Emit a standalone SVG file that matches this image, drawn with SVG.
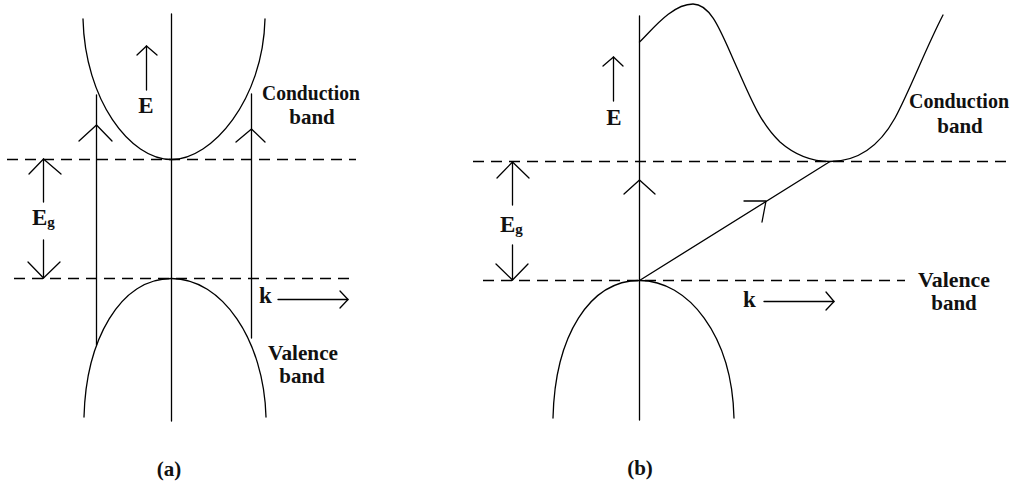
<svg xmlns="http://www.w3.org/2000/svg" width="1012" height="485" viewBox="0 0 1012 485">
<style>
.ln{stroke:#000;stroke-width:1.3;fill:none;stroke-linecap:round;stroke-linejoin:round}
.ds{stroke:#000;stroke-width:1.3;fill:none;stroke-dasharray:11 7}
.t{font-family:"Liberation Serif","Times New Roman",serif;font-weight:bold;fill:#111}
.lb{font-size:21px}
.sy{font-size:23px}
</style>
<rect width="1012" height="485" fill="#fff"/>
<g id="panel-a">
  <g id="a-guides">
    <line class="ds" x1="7" y1="159.5" x2="356" y2="159.5"/>
    <line class="ds" x1="14" y1="278.5" x2="356" y2="278.5"/>
  </g>
  <g id="a-axis"><line class="ln" x1="171.5" y1="14" x2="171.5" y2="421"/></g>
  <g id="a-conduction"><path class="ln" d="M83,19 C85,100 130,159.5 171.5,159.5 C212,159.5 263,100 265,19"/></g>
  <g id="a-valence"><path class="ln" d="M84,417 C86,340 120,278.5 171.5,278.5 C222,278.5 264,340 266,417"/></g>
  <g id="a-labels">
    <text class="t sy" x="146" y="113" text-anchor="middle">E</text>
    <text class="t sy" x="32" y="225">E<tspan font-size="15" dy="2">g</tspan></text>
    <text class="t lb" x="262" y="100" textLength="98" lengthAdjust="spacingAndGlyphs">Conduction</text>
    <text class="t lb" x="312" y="124" text-anchor="middle">band</text>
    <text class="t sy" x="259" y="303">k</text>
    <text class="t lb" x="268" y="360" textLength="70" lengthAdjust="spacingAndGlyphs">Valence</text>
    <text class="t lb" x="302" y="383" text-anchor="middle">band</text>
    <text class="t lb" x="169" y="476" text-anchor="middle">(a)</text>
  </g>
</g>
<g id="panel-b">
  <g id="b-guides">
    <line class="ds" x1="473" y1="161.5" x2="1012" y2="161.5"/>
    <line class="ds" x1="483" y1="280.5" x2="905" y2="280.5"/>
  </g>
  <g id="b-axis"><line class="ln" x1="639.5" y1="16" x2="639.5" y2="420"/></g>
  <g id="b-conduction"><path class="ln" d="M639.5,42 C652,30 672,4 693,4 C712,4 722,35 738,70 C752,102 762,125 780,142 C796,156 812,161.5 830,161.5 C858,161.5 880,145 895,118 C910,90 925,50 943,15"/></g>
  <g id="b-valence"><path class="ln" d="M553,418 C555,335 590,280.5 639.5,280.5 C688,280.5 732,335 734,418"/></g>
  <g id="b-labels">
    <text class="t sy" x="614" y="125" text-anchor="middle">E</text>
    <text class="t sy" x="500" y="232">E<tspan font-size="15" dy="2">g</tspan></text>
    <text class="t" font-size="20" x="909" y="108">Conduction</text>
    <text class="t lb" x="960" y="133" text-anchor="middle">band</text>
    <text class="t lb" x="918" y="287" textLength="72" lengthAdjust="spacingAndGlyphs">Valence</text>
    <text class="t lb" x="954" y="310" text-anchor="middle">band</text>
    <text class="t sy" x="743" y="307">k</text>
    <text class="t lb" x="640" y="475" text-anchor="middle">(b)</text>
  </g>
</g>
<g id="connectors">
  <line class="ln" x1="96.5" y1="95" x2="96.5" y2="345"/>
  <polyline class="ln" points="79,141 96.5,125 112,141"/>
  <line class="ln" x1="251.5" y1="94" x2="251.5" y2="338"/>
  <polyline class="ln" points="236,142 251.5,129 265,142"/>
  <line class="ln" x1="146.5" y1="46" x2="146.5" y2="90"/>
  <polyline class="ln" points="137,55 146.5,46 157,55"/>
  <line class="ln" x1="43.5" y1="159" x2="43.5" y2="202"/>
  <polyline class="ln" points="29,174 43.5,159 61,174"/>
  <line class="ln" x1="43.5" y1="240" x2="43.5" y2="278"/>
  <polyline class="ln" points="28,262 43.5,278 60,262"/>
  <line class="ln" x1="278" y1="299.5" x2="348" y2="299.5"/>
  <polyline class="ln" points="340,291 348,299.5 340,308"/>
  <polyline class="ln" points="624,194 639.5,180 655,194"/>
  <line class="ln" x1="639.5" y1="280.5" x2="830" y2="161.5"/>
  <polyline class="ln" points="744,201 766,201 762,222"/>
  <line class="ln" x1="613.5" y1="57" x2="613.5" y2="101"/>
  <polyline class="ln" points="603,66 613.5,57 623,66"/>
  <line class="ln" x1="512.5" y1="162" x2="512.5" y2="205"/>
  <polyline class="ln" points="497,178 512.5,162 529,178"/>
  <line class="ln" x1="512.5" y1="245" x2="512.5" y2="280"/>
  <polyline class="ln" points="496,264 512.5,280 528,264"/>
  <line class="ln" x1="764" y1="301.5" x2="834" y2="301.5"/>
  <polyline class="ln" points="826,292 834,301.5 826,310"/>
</g>
</svg>
